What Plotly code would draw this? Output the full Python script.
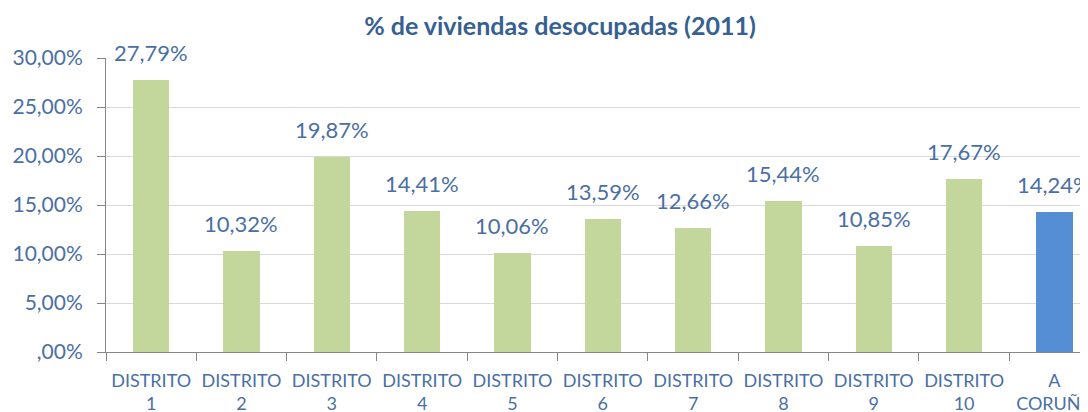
import plotly.graph_objects as go

categories = ["DISTRITO<br>1", "DISTRITO<br>2", "DISTRITO<br>3", "DISTRITO<br>4", "DISTRITO<br>5",
              "DISTRITO<br>6", "DISTRITO<br>7", "DISTRITO<br>8", "DISTRITO<br>9", "DISTRITO<br>10",
              "A<br>CORUÑA"]
values = [27.79, 10.32, 19.87, 14.41, 10.06, 13.59, 12.66, 15.44, 10.85, 17.67, 14.24]
labels = ["27,79%", "10,32%", "19,87%", "14,41%", "10,06%", "13,59%", "12,66%", "15,44%",
          "10,85%", "17,67%", "14,24%"]
tick_vals = [0, 5, 10, 15, 20, 25, 30]
tick_text = [",00%", "5,00%", "10,00%", "15,00%", "20,00%", "25,00%", "30,00%"]

GREEN = "#C3D69B"
BLUE = "#558ED5"
colors = [GREEN] * 10 + [BLUE]
TXT = "#4A6FA5"
FONT = "Lato"

fig = go.Figure(go.Bar(x=categories, y=values, marker=dict(color=colors, line=dict(width=0)),
                       width=0.4))

for c, v, t in zip(categories, values, labels):
    fig.add_annotation(x=c, y=v, text=t, showarrow=False, yanchor="bottom", yshift=12,
                       font=dict(family=FONT, size=22, color=TXT))

fig.update_layout(
    width=1088, height=412,
    margin=dict(l=98, r=0, t=50, b=68),
    paper_bgcolor="white", plot_bgcolor="white",
    title=dict(text="<b>% de viviendas desocupadas (2011)</b>", x=552 / 1088, xanchor="center",
               xref="container", y=1 - 18 / 412, yanchor="middle",
               font=dict(family=FONT, size=25, color="#366092")),
    showlegend=False,
    bargap=0,
)
fig.update_xaxes(type="category", range=[-0.5, 10.46], showline=True, linecolor="#868686",
                 linewidth=1, ticks="outside", tickson="boundaries", ticklen=8, tickcolor="#868686",
                 ticklabelstandoff=12,
                 tickfont=dict(family=FONT, size=18, color=TXT), showgrid=False)
fig.update_yaxes(range=[0, 30], tickvals=tick_vals, ticktext=tick_text, showline=True,
                 linecolor="#868686", linewidth=1, ticks="outside", ticklen=8, tickcolor="#868686",
                 ticklabelstandoff=10,
                 showgrid=True, gridcolor="#D9D9D9", gridwidth=1, zeroline=False,
                 tickfont=dict(family=FONT, size=21, color=TXT))

fig.write_html("out.html")
